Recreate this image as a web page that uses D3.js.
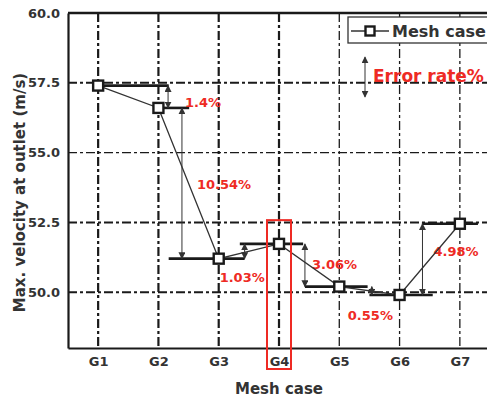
<!DOCTYPE html>
<html>
<head>
<meta charset="utf-8">
<script src="https://cdn.jsdelivr.net/npm/d3@7"></script>
<style>
  html, body { margin: 0; padding: 0; background: #fff; }
  svg { display: block; font-family: "DejaVu Sans", Verdana, sans-serif; }
</style>
</head>
<body>
<svg id="chart" width="487" height="404"></svg>
<script>
// Mesh-independence study: maximum outlet velocity per mesh case
const cases = ["G1", "G2", "G3", "G4", "G5", "G6", "G7"];
const velocity = [57.4, 56.6, 51.2, 51.73, 50.2, 49.9, 52.45];
const errorRates = ["1.4%", "10.54%", "1.03%", "3.06%", "0.55%", "4.98%"];
const yTicks = [50.0, 52.5, 55.0, 57.5, 60.0];
const highlighted = "G4";

const svg = d3.select("#chart");
const margin = { left: 68, top: 13, bottom: 348, right: 490 };

// Category axis as a continuous scale so that annotation offsets can sit between cases
const x = d3.scaleLinear().domain([0.5, cases.length + 0.5]).range([margin.left, margin.right]);
const xc = name => x(cases.indexOf(name) + 1);
const y = d3.scaleLinear().domain([48, 60]).range([margin.bottom, margin.top]);

const ink = "#1a1a1a";
const red = "#ee2a24";

// Dash-dot grid
const gridH = svg.append("g");
yTicks.filter(v => v < 60).forEach(v => {
  gridH.append("line")
    .attr("x1", margin.left).attr("x2", margin.right)
    .attr("y1", y(v)).attr("y2", y(v))
    .attr("stroke", ink)
    .attr("stroke-width", v === 55 ? 1.3 : 2)
    .attr("stroke-dasharray", "9,3,3,3");
});
const gridV = svg.append("g");
cases.forEach((c, i) => {
  gridV.append("line")
    .attr("x1", xc(c)).attr("x2", xc(c))
    .attr("y1", margin.top).attr("y2", margin.bottom)
    .attr("stroke", ink)
    .attr("stroke-width", i < 4 ? 2.2 : 1.3)
    .attr("stroke-dasharray", "9,3,3,3");
});

// Axes frame
const yAxis = d3.axisLeft(y).tickValues(yTicks).tickFormat(d3.format(".1f")).tickSize(0).tickPadding(8);
const gy = svg.append("g").attr("transform", `translate(${margin.left},0)`).call(yAxis);
gy.select(".domain").attr("stroke", ink).attr("stroke-width", 2.2);
gy.selectAll("text").attr("font-size", 13).attr("font-weight", "bold").attr("fill", "#333")
  .attr("font-family", "DejaVu Sans, sans-serif");

const xAxis = d3.axisBottom(x).tickValues(d3.range(1, cases.length + 1))
  .tickFormat(i => cases[i - 1]).tickSize(0).tickPadding(9);
const gx = svg.append("g").attr("transform", `translate(0,${margin.bottom})`).call(xAxis);
gx.select(".domain").attr("stroke", ink).attr("stroke-width", 2.2);
gx.selectAll("text").attr("font-size", 13).attr("font-weight", "bold").attr("fill", "#333")
  .attr("font-family", "DejaVu Sans, sans-serif");

svg.append("line")
  .attr("x1", margin.left).attr("x2", margin.right)
  .attr("y1", margin.top).attr("y2", margin.top)
  .attr("stroke", ink).attr("stroke-width", 2.6);

// Axis titles
svg.append("text")
  .attr("x", x(4)).attr("y", 394)
  .attr("text-anchor", "middle")
  .attr("font-size", 15).attr("font-weight", "bold").attr("fill", "#333")
  .text("Mesh case");
svg.append("text")
  .attr("transform", `translate(25,${(margin.top + margin.bottom) / 2 + 12}) rotate(-90)`)
  .attr("text-anchor", "middle")
  .attr("font-size", 15).attr("font-weight", "bold").attr("fill", "#333")
  .text("Max. velocity at outlet (m/s)");

// Level bars: each case's value drawn as a horizontal reference, extents in category units
const levelSpan = [[1.0, 2.17], [2.0, 2.51], [2.17, 3.43], [3.35, 4.4], [4.43, 5.47], [5.5, 6.55], [6.37, 7.3]];
svg.append("g").selectAll("line").data(velocity).join("line")
  .attr("x1", (v, i) => x(levelSpan[i][0]))
  .attr("x2", (v, i) => x(levelSpan[i][1]))
  .attr("y1", v => y(v)).attr("y2", v => y(v))
  .attr("stroke", ink).attr("stroke-width", 2.6);

// Arrowheads
const defs = svg.append("defs");
defs.append("marker")
  .attr("id", "head").attr("viewBox", "0 0 10 10")
  .attr("refX", 9).attr("refY", 5)
  .attr("markerWidth", 7).attr("markerHeight", 7)
  .attr("markerUnits", "userSpaceOnUse")
  .attr("orient", "auto-start-reverse")
  .append("path").attr("d", "M0,0 L10,5 L0,10 Z").attr("fill", "#333");

// Double arrows between successive cases with their error rates
const arrowAt = [2.16, 2.39, 3.43, 4.43, 5.54, 6.38];
const labelOffset = [[17, 10], [15, 6], [-25, 31], [7, 4], [-24, 29], [11, -3]];
const gaps = errorRates.map((r, i) => ({ rate: r, a: velocity[i], b: velocity[i + 1], i }));

const ga = svg.append("g");
ga.selectAll("line").data(gaps).join("line")
  .attr("x1", d => x(arrowAt[d.i])).attr("x2", d => x(arrowAt[d.i]))
  .attr("y1", d => y(d.a)).attr("y2", d => y(d.b))
  .attr("stroke", "#333").attr("stroke-width", 1)
  .attr("marker-start", "url(#head)").attr("marker-end", "url(#head)");
ga.selectAll("text").data(gaps).join("text")
  .attr("x", d => x(arrowAt[d.i]) + labelOffset[d.i][0])
  .attr("y", d => (y(d.a) + y(d.b)) / 2 + labelOffset[d.i][1])
  .attr("font-size", 13).attr("font-weight", "bold").attr("fill", red)
  .text(d => d.rate);

// Series line and markers
const line = d3.line().x((v, i) => x(i + 1)).y(v => y(v));
svg.append("path").datum(velocity)
  .attr("d", line).attr("fill", "none")
  .attr("stroke", "#333").attr("stroke-width", 1.3);
svg.append("g").selectAll("rect").data(velocity).join("rect")
  .attr("x", (v, i) => x(i + 1) - 5).attr("y", v => y(v) - 5)
  .attr("width", 10).attr("height", 10)
  .attr("fill", "#fff").attr("stroke", ink).attr("stroke-width", 2.4);

// Highlight frame around the selected mesh
svg.append("rect")
  .attr("x", xc(highlighted) - 12).attr("y", y(52.58))
  .attr("width", 24).attr("height", 369 - y(52.58))
  .attr("fill", "none").attr("stroke", red).attr("stroke-width", 2);

// Legend
const lg = svg.append("g");
lg.append("rect").attr("x", 348).attr("y", 17).attr("width", 150).attr("height", 26)
  .attr("fill", "#fff").attr("stroke", "#333").attr("stroke-width", 1.3);
lg.append("line").attr("x1", 351).attr("x2", 389).attr("y1", 31).attr("y2", 31)
  .attr("stroke", "#333").attr("stroke-width", 1.3);
lg.append("rect").attr("x", 365.5).attr("y", 26.5).attr("width", 9).attr("height", 9)
  .attr("fill", "#fff").attr("stroke", ink).attr("stroke-width", 2.4);
lg.append("text").attr("x", 392).attr("y", 37)
  .attr("font-size", 16).attr("font-weight", "bold").attr("fill", "#333")
  .text("Mesh case");

// Annotation key for the arrows
svg.append("line").attr("x1", 365).attr("x2", 365).attr("y1", 57).attr("y2", 97)
  .attr("stroke", "#333").attr("stroke-width", 1)
  .attr("marker-start", "url(#head)").attr("marker-end", "url(#head)");
svg.append("text").attr("x", 373).attr("y", 82)
  .attr("font-size", 17).attr("font-weight", "bold").attr("fill", red)
  .text("Error rate%");
</script>
</body>
</html>
